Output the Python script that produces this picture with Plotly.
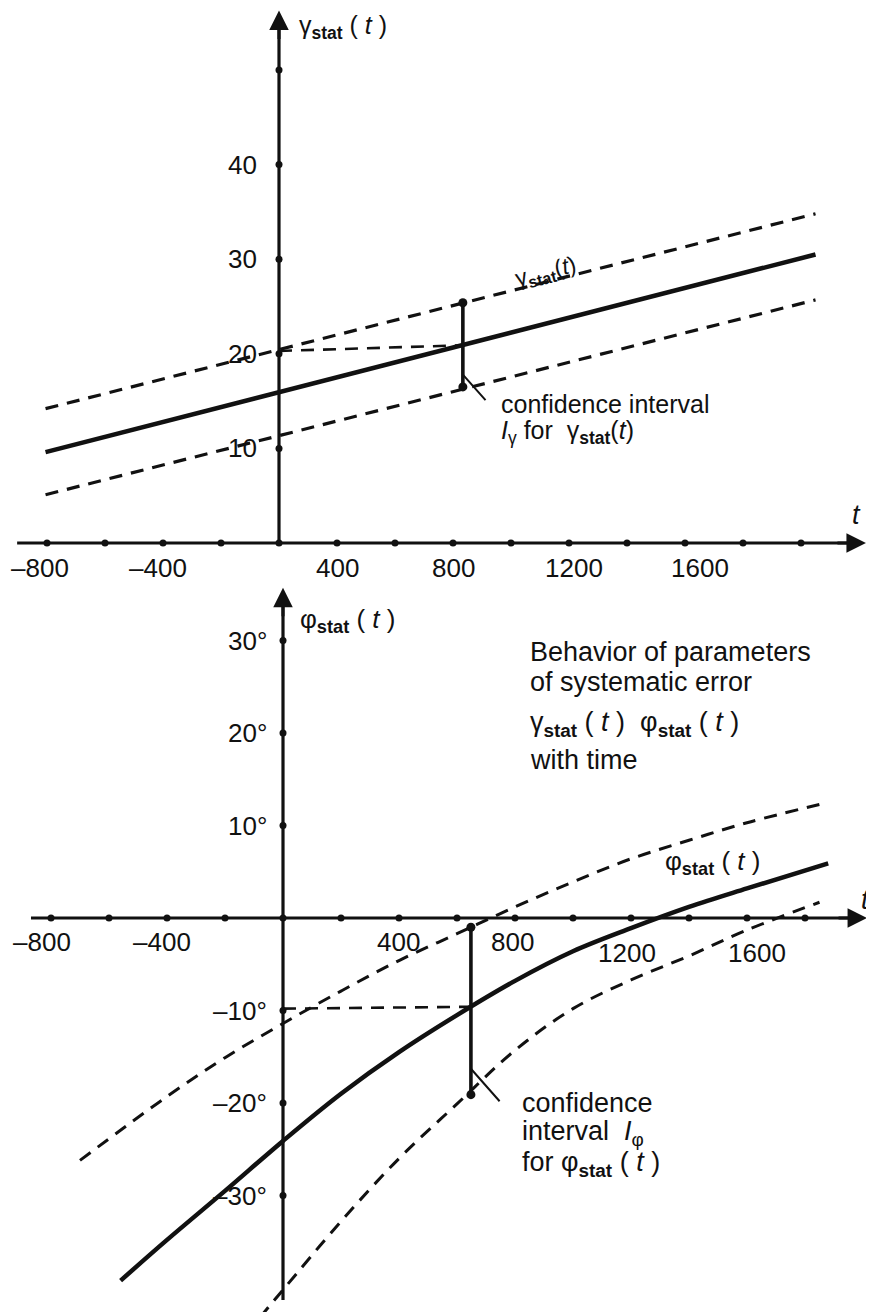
import plotly.graph_objects as go

# ---------------- data ----------------
# top panel: gamma_stat(t)
top_axis_dots_t = [-800, -600, -400, -200, 0, 200, 400, 600, 800, 1000, 1200, 1400, 1600, 1800]
gamma_axis_dots = [10, 20, 30, 40, 50]
gamma_tick_vals = [10, 20, 30, 40]
gamma_tick_text = ["10", "20", "30", "40"]
top_t_tick_pos = [-824, -417, 203, 600, 1017, 1452]
top_t_tick_text = ["–800", "–400", "400", "800", "1200", "1600"]

gamma_t = [-805, 1850]
gamma_upper = [14.2, 34.8]
gamma_mid = [9.6, 30.5]
gamma_lower = [5.1, 25.7]

gamma_ci_t = 634
gamma_ci = [16.5, 25.4]
gamma_ref_t = [0, 634]
gamma_ref = [20.3, 20.9]

# bottom panel: phi_stat(t)
bot_axis_dots_t = [-800, -600, -400, -200, 0, 200, 400, 600, 800, 1000, 1200, 1400, 1600, 1800]
phi_axis_dots = [-30, -20, -10, 10, 20, 30]
phi_tick_vals = [30, 20, 10, -10, -20, -30]
phi_tick_text = ["30°", "20°", "10°", "–10°", "–20°", "–30°"]
bot_t_tick_pos = [-831, -417, 397, 790, 1186, 1634]
bot_t_tick_text = ["–800", "–400", "400", "800", "1200", "1600"]

phi_mid_t = [-560, -400, -200, 0, 200, 400, 600, 800, 1000, 1200, 1400, 1600, 1880]
phi_mid = [-39.2, -34.8, -29.5, -24.1, -19.0, -14.5, -10.5, -6.8, -3.6, -1.1, 1.2, 3.2, 5.9]

phi_upper_t = [-700, -400, -200, 0, 200, 400, 600, 800, 1000, 1200, 1400, 1600, 1880]
phi_upper = [-26.2, -19.3, -15.1, -11.4, -7.9, -4.6, -1.7, 1.2, 3.9, 6.4, 8.4, 10.3, 12.5]

phi_lower_t = [-80, 0, 200, 400, 600, 800, 1000, 1200, 1400, 1600, 1850]
phi_lower = [-43.2, -40.2, -32.8, -26.0, -20.1, -14.3, -9.8, -6.7, -4.1, -1.3, 1.7]

phi_ci_t = 648
phi_ci = [-19.1, -1.0]
phi_ref_t = [0, 648]
phi_ref = [-9.8, -9.6]

# ---------------- figure ----------------
SCREEN_W, SCREEN_H = 874, 1312
OFF = 8                      # default page margin around the plot
W, H = SCREEN_W - OFF, SCREEN_H - OFF
FONT = "Liberation Sans, Arial, Helvetica, sans-serif"
BLACK = "#111111"
SPLIT = 585                  # screen row separating the panels

fig = go.Figure()

def line(x, y, xa, ya, width=4.0, dash=None, shape="linear"):
    fig.add_trace(go.Scatter(x=x, y=y, xaxis=xa, yaxis=ya, mode="lines",
                             line=dict(color=BLACK, width=width, dash=dash, shape=shape),
                             hoverinfo="skip", showlegend=False))

def dots(x, y, xa, ya, size=7):
    fig.add_trace(go.Scatter(x=x, y=y, xaxis=xa, yaxis=ya, mode="markers",
                             marker=dict(color=BLACK, size=size),
                             hoverinfo="skip", showlegend=False, cliponaxis=False))

DASH = "13px,9px"

# ---- top panel ----
line([-903, 2000], [0, 0], "x", "y", width=3.2)                 # t axis
line([0, 0], [0, 55.0], "x", "y", width=3.2)                    # gamma axis
dots(top_axis_dots_t, [0] * len(top_axis_dots_t), "x", "y")
dots([0] * len(gamma_axis_dots), gamma_axis_dots, "x", "y")
line(gamma_t, gamma_upper, "x", "y", width=3.2, dash=DASH)
line(gamma_t, gamma_mid, "x", "y", width=4.5)
line(gamma_t, gamma_lower, "x", "y", width=3.2, dash=DASH)
line(gamma_ref_t, gamma_ref, "x", "y", width=2.6, dash=DASH)
line([gamma_ci_t, gamma_ci_t], gamma_ci, "x", "y", width=3.6)
dots([gamma_ci_t, gamma_ci_t], gamma_ci, "x", "y", size=9)

# ---- bottom panel ----
line([-869, 1990], [0, 0], "x2", "y2", width=3.2)
line([0, 0], [-41.3, 34.0], "x2", "y2", width=3.2)
dots(bot_axis_dots_t, [0] * len(bot_axis_dots_t), "x2", "y2")
dots([0] * len(phi_axis_dots), phi_axis_dots, "x2", "y2")
line(phi_upper_t, phi_upper, "x2", "y2", width=3.0, dash=DASH, shape="spline")
line(phi_mid_t, phi_mid, "x2", "y2", width=4.5, shape="spline")
line(phi_lower_t, phi_lower, "x2", "y2", width=3.0, dash=DASH, shape="spline")
line(phi_ref_t, phi_ref, "x2", "y2", width=2.6, dash=DASH)
line([phi_ci_t, phi_ci_t], phi_ci, "x2", "y2", width=3.6)
dots([phi_ci_t, phi_ci_t], phi_ci, "x2", "y2", size=9)

ann = []

def text(x, y, s, xa, ya, size=25, xanchor="left", yanchor="middle", angle=0):
    ann.append(dict(x=x, y=y, xref=xa, yref=ya, text=s, showarrow=False,
                    xanchor=xanchor, yanchor=yanchor, textangle=angle,
                    font=dict(family=FONT, size=size, color=BLACK)))

def arrow(x, y, xa, ya, ax, ay):
    ann.append(dict(x=x, y=y, xref=xa, yref=ya, text="", showarrow=True,
                    ax=ax, ay=ay, arrowhead=2, arrowsize=1.3, arrowwidth=3,
                    arrowcolor=BLACK))

def leader(x, y, xa, ya, ax, ay):
    ann.append(dict(x=x, y=y, xref=xa, yref=ya, text="", showarrow=True,
                    ax=ax, ay=ay, arrowhead=0, arrowwidth=2, arrowcolor=BLACK))

# axis arrowheads
arrow(0, 56.3, "x", "y", 0, 30)
arrow(2024, 0, "x", "y", -30, 0)
arrow(0, 35.7, "x2", "y2", 0, 30)
arrow(2014, 0, "x2", "y2", -30, 0)

# tick labels
for v, s in zip(gamma_tick_vals, gamma_tick_text):
    text(0, v, s, "x", "y", xanchor="right", size=26)
    ann[-1]["xshift"] = -20
for v, s in zip(top_t_tick_pos, top_t_tick_text):
    text(v, 0, s, "x", "y", xanchor="center", yanchor="top", size=26)
    ann[-1]["yshift"] = -8
for v, s in zip(phi_tick_vals, phi_tick_text):
    text(0, v, s, "x2", "y2", xanchor="right", size=26)
    ann[-1]["xshift"] = -14
for v, s in zip(bot_t_tick_pos, bot_t_tick_text):
    text(v, 0, s, "x2", "y2", xanchor="center", yanchor="top", size=26)
    ann[-1]["yshift"] = -7 if v < 1000 else -18

# axis titles
text(62, 54.5, "γ<sub><b>stat</b></sub> ( <i>t</i> )", "x", "y", size=25)
text(1993, 2.96, "<i>t</i>", "x", "y", xanchor="center", size=27)
text(52, 32.2, "φ<sub><b>stat</b></sub> ( <i>t</i> )", "x2", "y2", size=26)
text(2008, 1.95, "<i>t</i>", "x2", "y2", xanchor="center", size=27)

# curve labels
text(920, 28.6, "γ<sub><b>stat</b></sub>(<i>t</i>)", "x", "y", size=23, xanchor="center", angle=-14)
text(1310, 6.05, "φ<sub><b>stat</b></sub> ( <i>t</i> )", "x2", "y2", size=26)

# confidence interval notes
text(760, 13.2 + 1.45, "confidence interval", "x", "y", size=25)
text(760, 13.2 - 1.45, "<i>I</i><sub>γ</sub> for  γ<sub><b>stat</b></sub>(<i>t</i>)", "x", "y", size=25)
leader(634, 17.8, "x", "y", 24, 27)

text(817, -20.0, "confidence", "x2", "y2", size=27)
text(817, -23.2, "interval  <i>I</i><sub>φ</sub>", "x2", "y2", size=27)
text(817, -26.6, "for φ<sub><b>stat</b></sub> ( <i>t</i> )", "x2", "y2", size=27)
leader(648, -16.3, "x2", "y2", 30, 34)

# title block
text(845, 28.8, "Behavior of parameters", "x2", "y2", size=27)
text(845, 25.5, "of systematic error", "x2", "y2", size=27)
text(845, 21.0, "γ<sub><b>stat</b></sub> ( <i>t</i> )  φ<sub><b>stat</b></sub> ( <i>t</i> )", "x2", "y2", size=27)
text(845, 17.1, "with time", "x2", "y2", size=27)

# ---------------- axes (calibrated to screen pixels) ----------------
top_px_per_t, bot_px_per_t = 0.29, 0.29
top_x0, bot_x0 = 279, 283            # screen column of t = 0
top_y0, top_px_per_g = 543, 9.46     # screen row of gamma = 0
bot_y0, bot_px_per_p = 918, 9.25     # screen row of phi = 0

hidden = dict(visible=False, showgrid=False, zeroline=False, fixedrange=True)
fig.update_layout(
    width=W, height=H,
    margin=dict(l=0, r=0, t=0, b=0),
    paper_bgcolor="white", plot_bgcolor="white",
    showlegend=False,
    annotations=ann,
    xaxis=dict(domain=[0, 1], anchor="y",
               range=[(OFF - top_x0) / top_px_per_t, (SCREEN_W - top_x0) / top_px_per_t], **hidden),
    yaxis=dict(domain=[1 - (SPLIT - OFF) / H, 1], anchor="x",
               range=[(top_y0 - SPLIT) / top_px_per_g, (top_y0 - OFF) / top_px_per_g], **hidden),
    xaxis2=dict(domain=[0, 1], anchor="y2",
                range=[(OFF - bot_x0) / bot_px_per_t, (SCREEN_W - bot_x0) / bot_px_per_t], **hidden),
    yaxis2=dict(domain=[0, 1 - (SPLIT - OFF) / H], anchor="x2",
                range=[(bot_y0 - SCREEN_H) / bot_px_per_p, (bot_y0 - SPLIT) / bot_px_per_p], **hidden),
)

fig.write_html("out.html")
